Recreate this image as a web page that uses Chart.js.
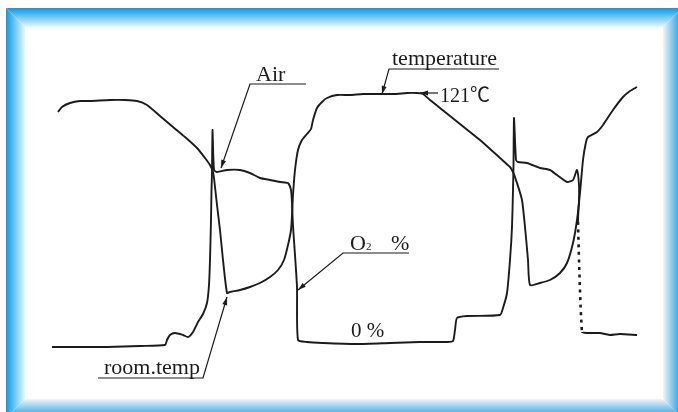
<!DOCTYPE html>
<html>
<head>
<meta charset="utf-8">
<script src="https://cdn.jsdelivr.net/npm/chart.js@4"></script>
<style>
  body { margin: 0; background: #fff; }
  canvas { display: block; }
</style>
</head>
<body>
<canvas id="grafico" width="678" height="412"></canvas>
<script>
const tempX = [58, 62, 70, 80, 90, 110, 125, 137, 147, 160, 173, 185, 197, 205, 210, 213, 214, 217, 220, 223, 227,
  230, 240, 250, 260, 270, 278, 284, 288, 291, 292, 293, 295, 298, 302, 307, 311, 313, 317, 322, 327, 337, 350,
  363, 382, 395, 407, 417, 423, 430, 440, 460, 480, 500, 510, 513, 517, 522, 525, 528, 530, 540, 550, 560, 567,
  573, 577, 580, 583, 586, 588, 597, 603, 613, 623, 630, 637];
const tempY = [300, 305, 309, 311, 311, 312, 312, 311, 307, 296, 285, 275, 264, 254, 247, 240, 234, 207, 182, 152, 119,
  120, 122, 125, 129, 135, 142, 152, 167, 182, 197, 217, 242, 262, 272, 278, 283, 292, 304, 310, 314, 317, 317,
  318, 318, 318, 319, 319, 318, 312, 304, 288, 272, 254, 245, 240, 229, 212, 185, 152, 127, 129, 132, 139, 149,
  169, 192, 219, 252, 270, 275, 280, 287, 302, 315, 321, 325];

const o2X = [52, 73, 107, 140, 165, 167, 170, 175, 183, 188, 193, 198, 203, 207, 209, 210, 211, 211.5, 212, 212.5, 214,
  217, 227, 240, 250, 260, 270, 280, 288, 291, 292, 292.5, 293, 295, 297, 298, 307, 323, 357, 390, 420, 447, 453,
  455, 457, 467, 500, 503, 507, 510, 512, 513, 513.5, 514, 516, 518, 527, 540, 550, 557, 567, 573, 577, 579, 579,
  578, 582, 587, 600, 605, 610, 620, 637];
const o2Y = [65, 65, 65, 66, 67, 72, 77, 79, 77, 75, 80, 90, 98, 109, 127, 152, 192, 222, 239, 282, 242,
  240, 242, 242, 239, 234, 232, 230, 229, 222, 209, 197, 186, 157, 125, 72, 70, 69, 68, 69, 70, 70, 71,
  82, 94, 96, 97, 104, 119, 152, 185, 222, 247, 294, 252, 250, 249, 244, 242, 237, 230, 232, 242, 227, 212,
  190, 80, 79, 79, 78, 77, 78, 77];
// tramo punteado: desde el ultimo punto en x = 578
const dashFrom = o2X.lastIndexOf(578);

// rotulos con su linea guia (el ultimo punto de la guia lleva flecha)
const notas = [
  { runs: [['Air', 256, 331, 22]], guia: [[306, 328], [250, 328], [221, 244]] },
  { runs: [['temperature', 392, 347, 22]], guia: [[499, 343], [389, 343], [382, 318]] },
  { runs: [['121℃', 440, 310, 20]], guia: [[438, 319], [420, 319]] },
  { runs: [['O', 350, 162, 22], ['2', 366, 162, 11], ['%', 391, 162, 22]], guia: [[409, 159], [343, 159], [298, 122]] },
  { runs: [['0 %', 351, 75, 21]], guia: [] },
  { runs: [['room.temp', 104, 38, 22]], guia: [[98, 34], [203, 34], [227, 115]] }
];

const puntos = (xs, ys) => xs.map((x, i) => ({ x: x, y: ys[i] }));

// marco azul biselado
const marco = {
  id: 'marco',
  beforeDraw(chart) {
    const c = chart.ctx;
    const o = { l: 6, t: 8, r: 682, b: 418 };
    const i = { l: 25, t: 27, r: 663, b: 399 };
    const oscuro = '#0e98e2', claro = '#eaf7fe';
    c.save();
    c.fillStyle = '#fff';
    c.fillRect(0, 0, chart.width, chart.height);
    const lado = (pts, x0, y0, x1, y1) => {
      const g = c.createLinearGradient(x0, y0, x1, y1);
      g.addColorStop(0, oscuro);
      g.addColorStop(1, claro);
      c.fillStyle = g;
      c.beginPath();
      pts.forEach((p, k) => k ? c.lineTo(p[0], p[1]) : c.moveTo(p[0], p[1]));
      c.closePath();
      c.fill();
    };
    lado([[o.l, o.t], [o.r, o.t], [i.r, i.t], [i.l, i.t]], 0, o.t, 0, i.t);
    lado([[o.l, o.t], [i.l, i.t], [i.l, i.b], [o.l, o.b]], o.l, 0, i.l, 0);
    lado([[o.r, o.t], [o.r, o.b], [i.r, i.b], [i.r, i.t]], o.r, 0, i.r, 0);
    lado([[o.l, o.b], [i.l, i.b], [i.r, i.b], [o.r, o.b]], 0, o.b, 0, i.b);
    c.restore();
  }
};

// textos y flechas
const rotulos = {
  id: 'rotulos',
  afterDatasetsDraw(chart) {
    const c = chart.ctx;
    const sx = chart.scales.x, sy = chart.scales.y;
    const px = v => sx.getPixelForValue(v), py = v => sy.getPixelForValue(v);
    c.save();
    c.fillStyle = '#1b1b1b';
    c.strokeStyle = '#1b1b1b';
    c.lineWidth = 1.2;
    notas.forEach(n => {
      n.runs.forEach(r => {
        c.font = r[3] + 'px "Liberation Serif", "Noto Sans CJK SC", serif';
        c.fillText(r[0], px(r[1]), py(r[2]));
      });
      if (n.guia.length < 2) return;
      c.beginPath();
      n.guia.forEach((p, k) => k ? c.lineTo(px(p[0]), py(p[1])) : c.moveTo(px(p[0]), py(p[1])));
      c.stroke();
      const a = n.guia[n.guia.length - 2], b = n.guia[n.guia.length - 1];
      const ax = px(a[0]), ay = py(a[1]), bx = px(b[0]), by = py(b[1]);
      const ang = Math.atan2(by - ay, bx - ax);
      c.beginPath();
      c.moveTo(bx, by);
      c.lineTo(bx - 8 * Math.cos(ang) + 2.5 * Math.sin(ang), by - 8 * Math.sin(ang) - 2.5 * Math.cos(ang));
      c.lineTo(bx - 8 * Math.cos(ang) - 2.5 * Math.sin(ang), by - 8 * Math.sin(ang) + 2.5 * Math.cos(ang));
      c.closePath();
      c.fill();
    });
    c.restore();
  }
};

const ctx = document.getElementById('grafico').getContext('2d');
new Chart(ctx, {
  type: 'line',
  data: {
    datasets: [
      {
        label: 'temperature',
        data: puntos(tempX, tempY),
        borderColor: '#1b1b1b',
        borderWidth: 1.9,
        pointRadius: 0,
        tension: 0.2,
        fill: false
      },
      {
        label: 'O2 %',
        data: puntos(o2X, o2Y),
        borderColor: '#1b1b1b',
        borderWidth: 1.9,
        pointRadius: 0,
        tension: 0.2,
        fill: false,
        segment: {
          borderDash: s => (s.p0DataIndex === dashFrom ? [3, 4.5] : undefined),
          borderWidth: s => (s.p0DataIndex === dashFrom ? 2.6 : undefined)
        }
      }
    ]
  },
  options: {
    responsive: false,
    animation: false,
    layout: { padding: 0 },
    scales: {
      x: { type: 'linear', min: 0, max: 678, display: false },
      y: { type: 'linear', min: 0, max: 412, display: false }
    },
    plugins: { legend: { display: false }, tooltip: { enabled: false } }
  },
  plugins: [marco, rotulos]
});
</script>
</body>
</html>
